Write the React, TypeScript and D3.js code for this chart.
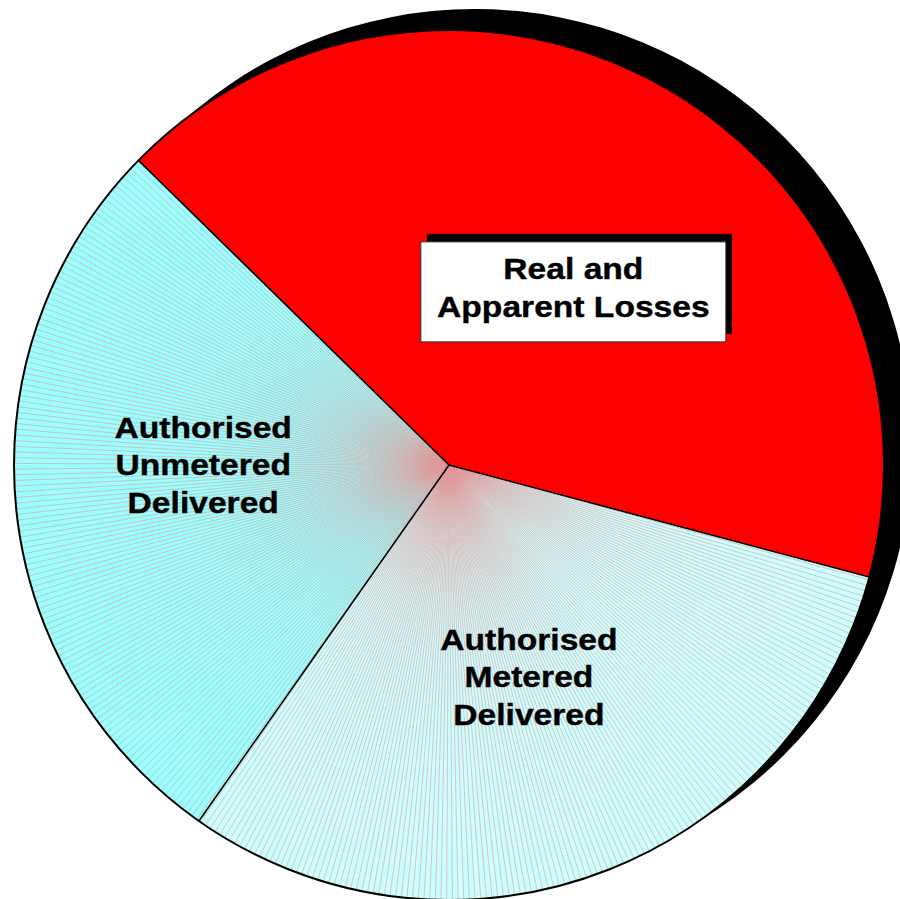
import React from 'react';
import * as d3 from 'd3';

// Slice data, clockwise from the top-left boundary
const categories = ['Real and Apparent Losses', 'Authorised Metered Delivered', 'Authorised Unmetered Delivered'];
const values = [41.8, 30.6, 27.6];
const labelLines = [
  ['Real and', 'Apparent Losses'],
  ['Authorised', 'Metered', 'Delivered'],
  ['Authorised', 'Unmetered', 'Delivered'],
];
const fills = ['#ff0000', '#ccffff', '#99ffff'];
const hatched = [false, true, true];
const boxed = [true, false, false];

const W = 900;
const H = 899;
const cx = 449;
const cy = 465;
const R = 435;
const START = (314.45 * Math.PI) / 180;

// label placement relative to slice middle (angle nudge in deg, radius fraction, text shift)
const labelNudge = [
  { da: 6, rf: 0.49, dy: -4.5 },
  { da: -0.7, rf: 0.52, dy: 0 },
  { da: 5, rf: 0.565, dy: -1.5 },
];

const App: React.FC = () => {
  const pie = d3
    .pie<number>()
    .sort(null)
    .value(d => d)
    .startAngle(START)
    .endAngle(START + 2 * Math.PI);
  const arcs = pie(values);

  const arc = d3.arc<d3.PieArcDatum<number>>().innerRadius(0).outerRadius(R);

  const polar = (a: number, r: number): [number, number] => [r * Math.sin(a), -r * Math.cos(a)];

  // radial hatch lines, ~480 round the full circle
  const step = (2 * Math.PI) / 480;
  const hatchPath = (a0: number, a1: number) => {
    const p = d3.path();
    for (let a = a0 + step / 2; a < a1; a += step) {
      const [x, y] = polar(a, R);
      p.moveTo(0, 0);
      p.lineTo(x, y);
    }
    return p.toString();
  };

  const fontSize = 30;
  const lineH = 37.5;

  return (
    <svg
      width={W}
      height={H}
      style={{ position: 'absolute', left: 0, top: 0, display: 'block', background: '#fff' }}
      fontFamily="'Liberation Sans', Arial, sans-serif"
    >
      {/* drop shadow */}
      <circle cx={cx + 26} cy={cy - 19} r={437} fill="#000" />
      <g transform={`translate(${cx},${cy})`}>
        {arcs.map((d, i) => (
          <g key={categories[i]}>
            <path d={arc(d) || ''} fill={fills[i]} />
            {hatched[i] && (
              <path d={hatchPath(d.startAngle, d.endAngle)} stroke="#e09a9a" strokeWidth={0.6} fill="none" />
            )}
          </g>
        ))}
        {arcs.map((d, i) => {
          const [x, y] = polar(d.startAngle, R);
          return <line key={'b' + i} x1={0} y1={0} x2={x} y2={y} stroke="#000" strokeWidth={1.6} />;
        })}
        <circle r={R} fill="none" stroke="#000" strokeWidth={2} />
      </g>
      {arcs.map((d, i) => {
        const mid = (d.startAngle + d.endAngle) / 2 + (labelNudge[i].da * Math.PI) / 180;
        const [lx, ly] = polar(mid, R * labelNudge[i].rf);
        const x = cx + lx;
        const y = cy + ly;
        const lines = labelLines[i];
        const top = y - ((lines.length - 1) * lineH) / 2 + fontSize * 0.36 + labelNudge[i].dy;
        return (
          <g key={'l' + i}>
            {boxed[i] && (
              <g>
                <rect x={x - 152.5 + 6} y={y - 50 - 8} width={305} height={100} fill="#000" />
                <rect x={x - 152.5} y={y - 50} width={305} height={100} fill="#fff" stroke="#333" strokeWidth={1} />
              </g>
            )}
            <g transform={`translate(${x},0) scale(1.12,1)`}>
              {lines.map((t, j) => (
                <text
                  key={j}
                  x={0}
                  y={top + j * lineH}
                  textAnchor="middle"
                  fontSize={fontSize}
                  fontWeight="bold"
                  fill="#000"
                  stroke="#000"
                  strokeWidth={0.4}
                >
                  {t}
                </text>
              ))}
            </g>
          </g>
        );
      })}
    </svg>
  );
};

export default App;
